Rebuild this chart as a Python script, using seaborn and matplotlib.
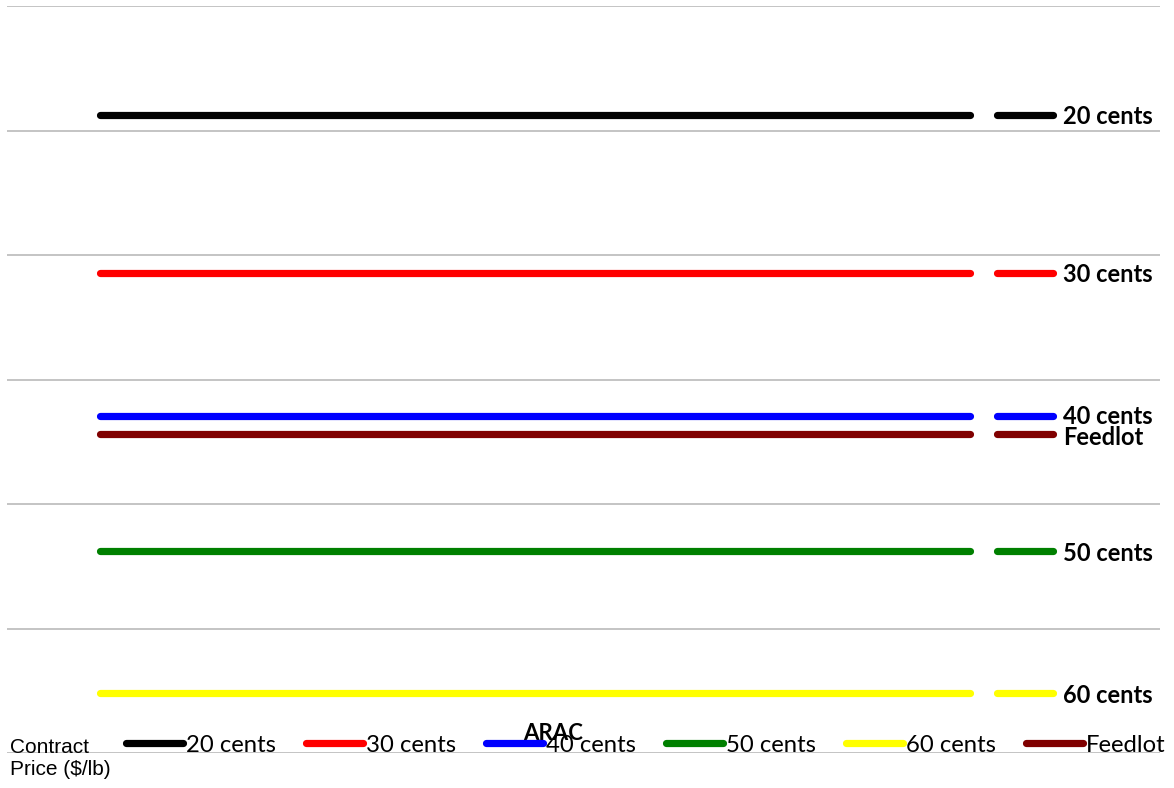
import matplotlib
matplotlib.use("Agg")
import matplotlib.pyplot as plt
import matplotlib.transforms as mtransforms
from matplotlib.lines import Line2D
import pandas as pd
import seaborn as sns

# Contract price scenarios and their ARAC values
series = ["20 cents", "30 cents", "40 cents", "50 cents", "60 cents", "Feedlot"]
arac = [513, 386, 271, 162, 48, 256]
colors = ["#000000", "#ff0000", "#0000ff", "#008000", "#ffff00", "#800000"]
periods = [0, 1]
y_ticks = [0, 100, 200, 300, 400, 500, 600]

rows = []
for name, val in zip(series, arac):
    for p in periods:
        rows.append({"period": p, "ARAC": val, "series": name})
df = pd.DataFrame(rows)

sns.set_theme(style="white")
plt.rcParams["font.family"] = ["Lato", "DejaVu Sans"]
plt.rcParams["text.color"] = "#000000"
plt.rcParams["legend.labelcolor"] = "#000000"

fig = plt.figure(figsize=(11.74, 7.88), dpi=100)
ax = fig.add_axes([7 / 1174, 1 - 753 / 788, 1153 / 1174, (753 - 6.3) / 788])

palette = dict(zip(series, colors))
sns.lineplot(data=df, x="period", y="ARAC", hue="series", palette=palette,
             hue_order=series, linewidth=5.2, legend=False, ax=ax,
             solid_capstyle="round")

ax.set_xlim(-0.107, 1.218)
ax.set_ylim(0, 600)
ax.set_yticks(y_ticks)
ax.set_xticks([])
ax.tick_params(left=False, bottom=False, labelleft=False, labelbottom=False)
ax.yaxis.grid(True, color="#c4c4c4", linewidth=1.4)
ax.set_axisbelow(True)
for s in ax.spines.values():
    s.set_visible(False)
ax.set_xlabel("")
ax.set_ylabel("")

# End-of-line labels on the right
trans = mtransforms.blended_transform_factory(ax.transAxes, ax.transData)
for name, val, col in zip(series, arac, colors):
    ax.plot([0.8586, 0.907], [val, val], transform=trans, color=col,
            linewidth=5.2, solid_capstyle="round", clip_on=False)
    dy = -1.5
    if name == "40 cents":
        dy = -0.5
    elif name == "Feedlot":
        dy = -2.5
    ax.annotate(name, xy=(0.916, val), xycoords=trans, xytext=(0, dy),
                textcoords="offset points", va="center", ha="left",
                fontsize=17, fontweight="bold", color="#000000")

# Bottom legend
handles = [Line2D([0], [0], color=c, linewidth=5.2, solid_capstyle="round")
           for c in colors]
fig.legend(handles, series, loc="center left", bbox_to_anchor=(126 / 1174, 1 - 745 / 788),
           ncol=6, frameon=False, fontsize=17.2, handlelength=2.39,
           handletextpad=0.13, columnspacing=1.25, borderpad=0, borderaxespad=0,
           labelcolor="#000000")

fig.text(553 / 1174, 1 - 733 / 788, "ARAC", ha="center", va="center",
         fontsize=16, fontweight="bold", color="#000000")
fig.text(10 / 1174, 1 - 753 / 788, "Contract", ha="left", va="baseline",
         fontsize=15, family=["Liberation Sans", "DejaVu Sans"], color="#000000")
fig.text(10 / 1174, 1 - 775 / 788, "Price ($/lb)", ha="left", va="baseline",
         fontsize=15, family=["Liberation Sans", "DejaVu Sans"], color="#000000")

fig.savefig("out.png", dpi=100)
